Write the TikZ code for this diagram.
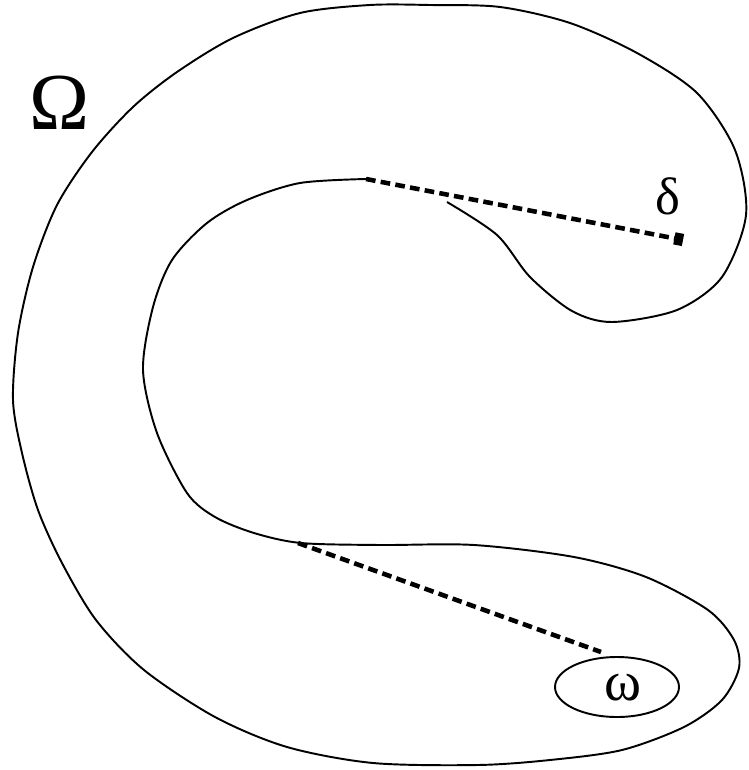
\documentclass[tikz,border=0pt]{standalone}
\usepackage{fontspec}
\setmainfont{Liberation Serif}
\usetikzlibrary{arrows.meta}

\begin{document}
\begin{tikzpicture}[x=0.02cm, y=-0.02cm,
  boundary/.style={line width=1.1pt, line join=round},
  cut/.style={line width=2.6pt, dash pattern=on 5.5pt off 3pt},
  lbl/.style={inner sep=0pt}]

\useasboundingbox (0,0) rectangle (749,770);

% outer domain, open where the upper cut runs along it
\draw[boundary] plot[smooth, tension=0.5] coordinates {
  (447,202) (497,235) (530,277) (572,311) (612,322) (677,310) (722,277)
  (746,215) (735,150) (697,93) (637,53) (570,23) (500,7) (430,5)
  (370,5) (300,13) (233,38) (177,72) (133,107) (92,152) (57,205)
  (33,267) (18,333) (13,400) (22,453) (38,510) (62,563) (96,620)
  (144,670) (215,717) (287,747) (373,763) (478,765) (550,760) (622,750)
  (684,727) (722,700) (739,668) (734,640) (708,610) (646,577) (574,557)
  (474,545) (380,545) (301,543) (254,533) (215,517) (187,493) (157,433)
  (143,370) (153,307) (172,260) (207,223) (247,200) (300,183) (366,179)};

% small subdomain
\draw[boundary] (617,687) ellipse [x radius=62, y radius=30];

\coordinate (topcut) at (366,179);
\coordinate (delta end) at (683,240);
\coordinate (lowcut) at (298,543);
\coordinate (omega top) at (601,652);

\draw[cut, -{Square[length=5pt, width=7pt]}] (topcut) -- (delta end);
\draw[cut] (lowcut) -- (omega top);

\node[lbl, font=\fontsize{46}{46}\selectfont] (Omega) at (60,103) {Ω};
\node[lbl, font=\fontsize{30}{30}\selectfont] (delta) at (668,196) {δ};
\node[lbl, font=\fontsize{32}{32}\selectfont] (omega) at (623,688) {ω};

\end{tikzpicture}
\end{document}
